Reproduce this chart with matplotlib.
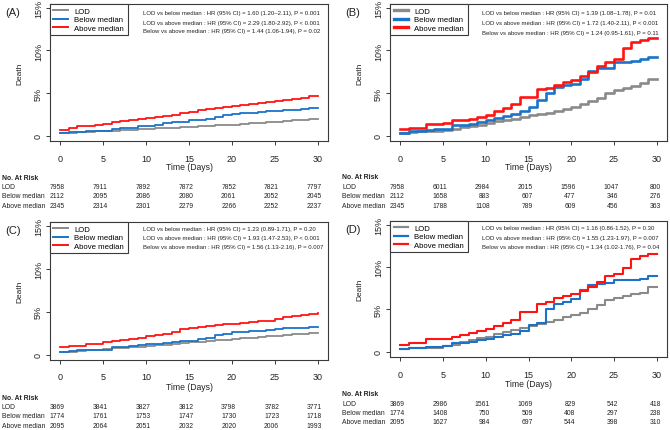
import matplotlib
matplotlib.use("Agg")
import matplotlib.pyplot as plt
from matplotlib.transforms import blended_transform_factory

plt.rcParams["font.family"] = ["Liberation Sans", "DejaVu Sans"]

W, H = 670, 431

DAYS = list(range(31))
XTICKS = [0, 5, 10, 15, 20, 25, 30]
YTICKS = [0, 5, 10, 15]
YTICK_LABELS = ["0", "5%", "10%", "15%"]
GROUPS = ["LOD", "Below median", "Above median"]
COLORS = ["#8a8a8a", "#1a73c9", "#ff1414"]

A_LOD = [0.30, 0.35, 0.40, 0.45, 0.50, 0.55, 0.60, 0.65, 0.70, 0.75, 0.80, 0.85, 0.90, 0.95, 1.00, 1.05,
         1.10, 1.15, 1.20, 1.25, 1.30, 1.37, 1.44, 1.51, 1.58, 1.65, 1.72, 1.79, 1.86, 1.93, 2.00]
A_BELOW = [0.30, 0.45, 0.45, 0.50, 0.55, 0.60, 0.80, 0.90, 0.95, 1.10, 1.15, 1.30, 1.45, 1.60, 1.65, 1.80,
           1.90, 2.00, 2.20, 2.45, 2.55, 2.65, 2.70, 2.80, 2.90, 2.95, 3.00, 3.05, 3.10, 3.20, 3.20]
A_ABOVE = [0.70, 0.85, 1.10, 1.15, 1.30, 1.35, 1.60, 1.70, 1.80, 1.95, 2.05, 2.20, 2.30, 2.45, 2.65, 2.75,
           3.00, 3.10, 3.20, 3.35, 3.45, 3.55, 3.70, 3.80, 3.95, 4.05, 4.20, 4.35, 4.45, 4.60, 4.60]

B_LOD = [0.30, 0.40, 0.50, 0.60, 0.60, 0.70, 0.80, 1.00, 1.10, 1.25, 1.45, 1.70, 1.90, 2.00, 2.20, 2.40,
         2.50, 2.65, 2.85, 3.15, 3.35, 3.70, 4.10, 4.45, 5.00, 5.35, 5.65, 5.85, 6.15, 6.70, 6.70]
B_BELOW = [0.30, 0.50, 0.50, 0.70, 0.80, 0.80, 1.20, 1.20, 1.40, 1.60, 1.80, 2.05, 2.30, 2.60, 2.90, 3.40,
           4.20, 5.00, 5.70, 5.90, 6.10, 6.60, 7.60, 7.90, 7.90, 8.60, 8.60, 8.80, 9.00, 9.20, 9.20]
B_ABOVE = [0.80, 0.90, 0.90, 1.40, 1.40, 1.50, 1.80, 1.80, 2.00, 2.20, 2.45, 2.85, 3.30, 3.70, 4.50, 4.50,
           5.45, 5.65, 5.90, 6.35, 6.55, 6.95, 7.50, 8.20, 8.65, 9.00, 10.30, 11.00, 11.20, 11.45, 11.45]

C_LOD = [0.30, 0.35, 0.42, 0.50, 0.58, 0.65, 0.72, 0.80, 0.88, 0.95, 1.02, 1.10, 1.18, 1.26, 1.34, 1.42,
         1.50, 1.58, 1.66, 1.74, 1.82, 1.90, 1.98, 2.06, 2.14, 2.22, 2.30, 2.38, 2.45, 2.52, 2.55]
C_BELOW = [0.30, 0.45, 0.50, 0.55, 0.60, 0.60, 0.85, 0.90, 1.00, 1.10, 1.25, 1.30, 1.40, 1.45, 1.55, 1.65,
           1.80, 1.90, 2.25, 2.45, 2.60, 2.65, 2.75, 2.80, 2.90, 2.95, 3.05, 3.10, 3.15, 3.20, 3.20]
C_ABOVE = [0.90, 1.05, 1.05, 1.30, 1.30, 1.45, 1.60, 1.70, 1.85, 2.00, 2.15, 2.30, 2.40, 2.60, 3.00, 3.15,
           3.25, 3.35, 3.50, 3.55, 3.60, 3.70, 3.80, 3.90, 3.95, 4.10, 4.40, 4.50, 4.60, 4.75, 4.90]

D_LOD = [0.30, 0.40, 0.40, 0.50, 0.50, 0.65, 0.80, 1.15, 1.40, 1.60, 1.75, 2.15, 2.35, 2.55, 2.85, 3.05,
         3.25, 3.55, 3.70, 4.10, 4.30, 4.60, 5.10, 5.50, 6.10, 6.40, 6.55, 6.85, 6.95, 7.65, 7.65]
D_BELOW = [0.30, 0.40, 0.40, 0.60, 0.60, 0.70, 1.00, 1.00, 1.20, 1.40, 1.55, 1.70, 1.95, 2.15, 2.45, 3.20,
           3.40, 5.05, 5.70, 5.90, 6.25, 7.25, 7.85, 7.95, 8.10, 8.50, 8.50, 8.50, 8.60, 8.90, 8.90]
D_ABOVE = [0.85, 1.05, 1.05, 1.45, 1.45, 1.55, 1.75, 1.95, 2.20, 2.40, 2.65, 3.00, 3.40, 3.80, 4.65, 4.65,
           5.60, 5.90, 6.35, 6.60, 6.85, 7.20, 7.70, 8.30, 8.90, 9.15, 9.95, 10.95, 11.30, 11.55, 11.55]

# numbers at risk at days 0, 5, ..., 30
A_RISK_LOD = [7958, 7911, 7892, 7872, 7852, 7821, 7797]
A_RISK_BELOW = [2112, 2095, 2086, 2080, 2061, 2052, 2045]
A_RISK_ABOVE = [2345, 2314, 2301, 2279, 2266, 2252, 2237]
B_RISK_LOD = [7958, 6011, 2984, 2015, 1596, 1047, 800]
B_RISK_BELOW = [2112, 1658, 883, 607, 477, 346, 276]
B_RISK_ABOVE = [2345, 1788, 1108, 789, 609, 456, 363]
C_RISK_LOD = [3869, 3841, 3827, 3812, 3798, 3782, 3771]
C_RISK_BELOW = [1774, 1761, 1753, 1747, 1730, 1723, 1718]
C_RISK_ABOVE = [2095, 2064, 2051, 2032, 2020, 2006, 1993]
D_RISK_LOD = [3869, 2986, 1561, 1069, 829, 542, 418]
D_RISK_BELOW = [1774, 1408, 750, 509, 408, 297, 238]
D_RISK_ABOVE = [2095, 1627, 984, 697, 544, 398, 310]

A_HR = ["LOD vs below median : HR (95% CI) = 1.60 (1.20\u20132.11), P = 0.001",
        "LOD vs above median : HR (95% CI) = 2.29 (1.80-2.92), P < 0.001",
        "Below vs above median : HR (95% CI) = 1.44 (1.06-1.94), P = 0.02"]
B_HR = ["LOD vs below median : HR (95% CI) = 1.39 (1.08\u20131.78), P = 0.01",
        "LOD vs above median : HR (95% CI) = 1.72 (1.40-2.11), P < 0.001",
        "Below vs above median : HR (95% CI) = 1.24 (0.95-1.61), P = 0.11"]
C_HR = ["LOD vs below median : HR (95% CI) = 1.23 (0.89-1.71), P = 0.20",
        "LOD vs above median : HR (95% CI) = 1.93 (1.47-2.53), P < 0.001",
        "Below vs above median : HR (95% CI) = 1.56 (1.13-2.16), P = 0.007"]
D_HR = ["LOD vs below median : HR (95% CI) = 1.16 (0.86-1.52), P = 0.30",
        "LOD vs above median : HR (95% CI) = 1.55 (1.23-1.97), P = 0.007",
        "Below vs above median : HR (95% CI) = 1.34 (1.02-1.76), P = 0.04"]

# layout in pixels: axes box (left, top, right, bottom), row y of at-risk table, etc.
PANELS = [
    dict(tag="(A)", box=(50, 5, 328, 142), curves=(A_LOD, A_BELOW, A_ABOVE),
         risk=(A_RISK_LOD, A_RISK_BELOW, A_RISK_ABOVE), hr=A_HR, hr_x=143, hr_y=(14, 23, 32),
         rows=(179, 188, 197, 207), xlab=168, lw=1.3, leg_lw=1.4),
    dict(tag="(B)", box=(390, 5, 667, 142), curves=(B_LOD, B_BELOW, B_ABOVE),
         risk=(B_RISK_LOD, B_RISK_BELOW, B_RISK_ABOVE), hr=B_HR, hr_x=482, hr_y=(13, 23, 33),
         rows=(178, 188, 197, 207), xlab=168, lw=1.9, leg_lw=2.4),
    dict(tag="(C)", box=(50, 223, 328, 361), curves=(C_LOD, C_BELOW, C_ABOVE),
         risk=(C_RISK_LOD, C_RISK_BELOW, C_RISK_ABOVE), hr=C_HR, hr_x=143, hr_y=(230, 239, 248),
         rows=(399, 408, 417, 427), xlab=388, lw=1.3, leg_lw=1.4),
    dict(tag="(D)", box=(390, 222, 667, 358), curves=(D_LOD, D_BELOW, D_ABOVE),
         risk=(D_RISK_LOD, D_RISK_BELOW, D_RISK_ABOVE), hr=D_HR, hr_x=482, hr_y=(229, 239, 248),
         rows=(395, 405, 414, 423), xlab=385, lw=1.5, leg_lw=1.6),
]

FRAME = "#3a3a3a"
TXT = "#222222"

fig = plt.figure(figsize=(W / 100, H / 100), dpi=100)

for p in PANELS:
    l, t, r, b = p["box"]
    ax = fig.add_axes([l / W, 1 - b / H, (r - l) / W, (b - t) / H])
    for vals, name, col in zip(p["curves"], GROUPS, COLORS):
        ax.step(DAYS, vals, where="post", color=col, lw=p["lw"], label=name)
    ax.set_xlim(-1.2, 31.2)
    ax.set_ylim(-0.62, 15.45)
    ax.set_xticks(XTICKS)
    ax.set_yticks(YTICKS)
    ax.set_yticklabels(YTICK_LABELS, rotation=90, va="center")
    ax.tick_params(direction="out", length=3, width=0.7, color=FRAME, labelsize=6.5,
                   labelcolor=TXT, pad=2)
    ax.tick_params(axis="x", pad=6)
    for s in ax.spines.values():
        s.set_color(FRAME)
        s.set_linewidth(0.8)

    leg = ax.legend(loc="upper left", fontsize=5.6, frameon=True, fancybox=False,
                    edgecolor=FRAME, framealpha=1, borderaxespad=0, borderpad=0.45,
                    handlelength=1.9, handletextpad=0.8, labelspacing=0.12)
    leg.get_frame().set_linewidth(0.8)
    for ln in leg.get_lines():
        ln.set_linewidth(p["leg_lw"])

    for txt, yy in zip(p["hr"], p["hr_y"]):
        fig.text(p["hr_x"] / W, 1 - yy / H, txt, fontsize=4.35, color=TXT, va="center", ha="left")

    fig.text((l - 45) / W, 1 - (t + 8) / H, p["tag"], fontsize=8, color=TXT, va="center", ha="left")
    fig.text((l - 30) / W, 1 - (t + b) / 2 / H, "Death", fontsize=6, color=TXT, rotation=90,
             va="center", ha="center")
    fig.text((l + r) / 2 / W, 1 - p["xlab"] / H, "Time (Days)", fontsize=6.2, color=TXT,
             va="center", ha="center")

    # at-risk table
    trans = blended_transform_factory(ax.transData, fig.transFigure)
    rows = p["rows"]
    fig.text((l - 48) / W, 1 - rows[0] / H, "No. At Risk", fontsize=4.85, fontweight="bold",
             color=TXT, va="center", ha="left")
    for name, counts, yy in zip(GROUPS, p["risk"], rows[1:]):
        fig.text((l - 48) / W, 1 - yy / H, name, fontsize=4.85, color=TXT, va="center", ha="left")
        for d, n in zip(XTICKS, counts):
            ax.text(d + 0.5, 1 - yy / H, str(n), transform=trans, fontsize=4.85, color=TXT,
                    va="center", ha="right", clip_on=False)

fig.savefig("out.png", dpi=100)
